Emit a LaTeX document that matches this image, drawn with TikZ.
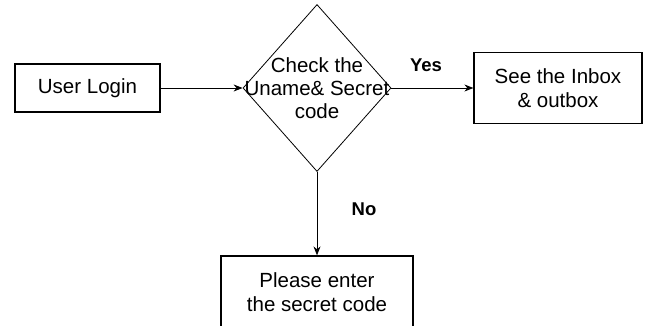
\documentclass[tikz,border=0pt]{standalone}
\usepackage{fontspec}
\setmainfont{Liberation Sans}
\usetikzlibrary{shapes.geometric,arrows.meta}
\begin{document}
\begin{tikzpicture}[x=1pt,y=-1pt,
  every node/.style={font=\fontsize{20.5}{23.5}\selectfont},
  procbox/.style={draw=black,line width=1.2pt,rectangle,inner sep=0pt,align=center},
  decision/.style={draw=black,line width=0.8pt,diamond,inner sep=0pt},
  flow/.style={draw=black,line width=0.9pt,-{Stealth[length=9pt,width=7pt]}},
  answer/.style={font=\fontsize{18.5}{20}\selectfont\bfseries}]
\useasboundingbox (0,0) rectangle (648,326);
\node[procbox,minimum width=145pt,minimum height=48pt] (login) at (87.5,88) {User Login};
\node[decision,minimum width=148pt,minimum height=167pt,
  label={[align=center,font=\fontsize{20.5}{23}\selectfont]center:Check the\\Uname\& Secret\\code}] (check) at (317,88) {};
\node[procbox,minimum width=168pt,minimum height=71pt] (inbox) at (558,88) {See the Inbox\\\& outbox};
\node[procbox,minimum width=192pt,minimum height=72pt] (enter) at (317,292) {Please enter\\the secret code};
\draw[flow] (login.east) -- (check.west);
\draw[flow] (check.east) -- (inbox.west);
\draw[flow] (check.south) -- (enter.north);
\node[answer] (yes) at (426,65) {Yes};
\node[answer] (no) at (364,209) {No};
\end{tikzpicture}
\end{document}
